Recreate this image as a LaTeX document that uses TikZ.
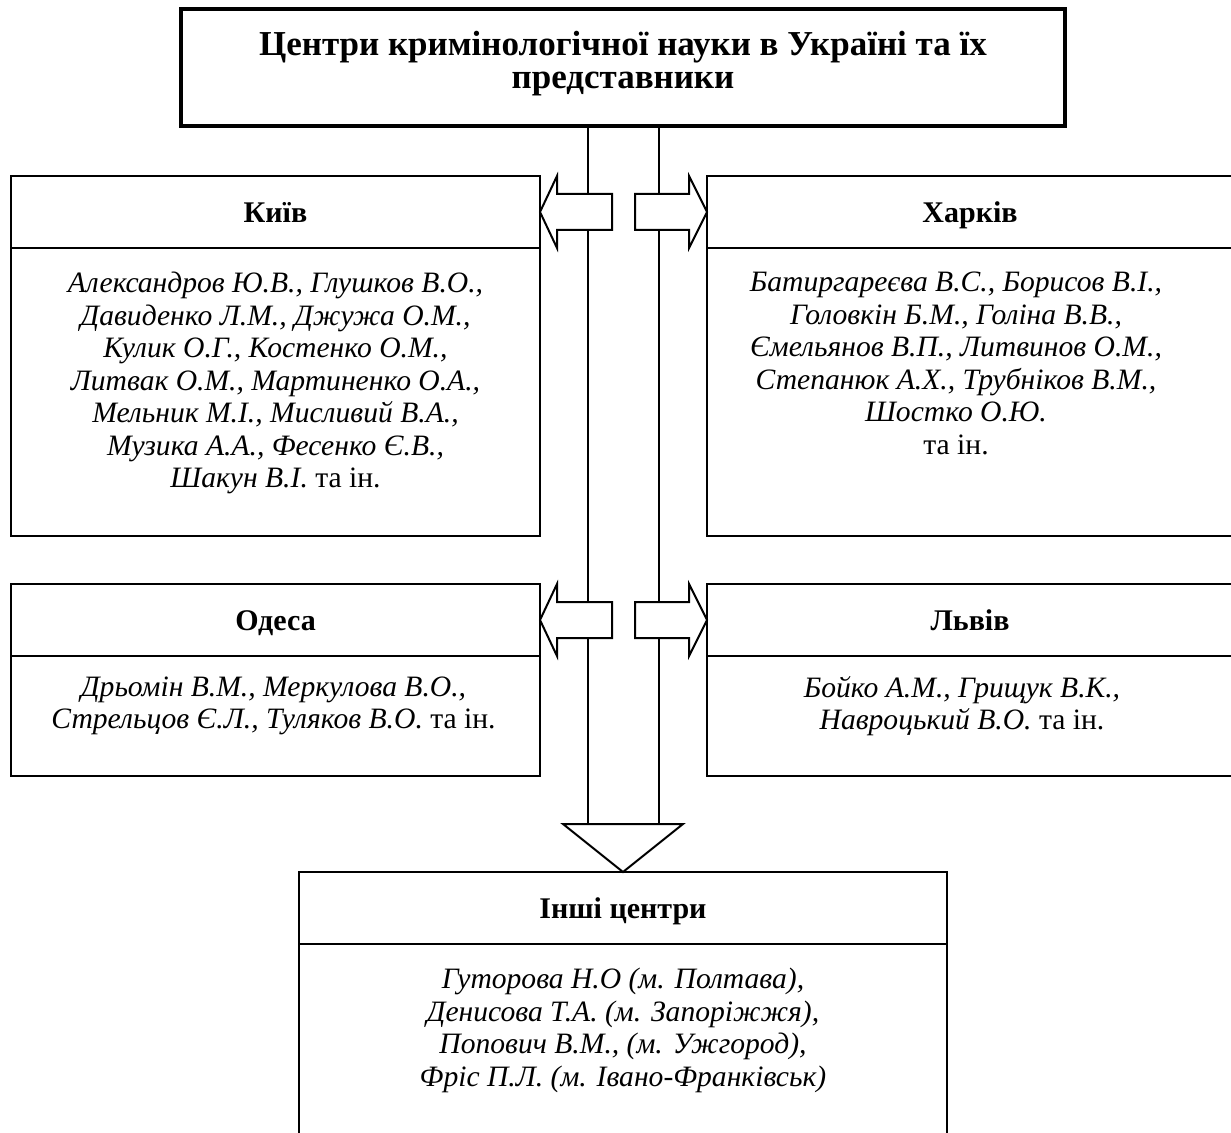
\documentclass[tikz,border=0pt]{standalone}
\usepackage{fontspec}
\setmainfont{Liberation Serif}
\usetikzlibrary{positioning,calc}

% block arrows drawn from their tip
\newcommand{\blockleft}[1]{\draw[blk] (#1) -- ++(17,-36) -- ++(0,18) -- ++(55,0)
  -- ++(0,36) -- ++(-55,0) -- ++(0,18) -- cycle;}
\newcommand{\blockright}[1]{\draw[blk] (#1) -- ++(-18,-36) -- ++(0,18) -- ++(-54,0)
  -- ++(0,36) -- ++(54,0) -- ++(0,18) -- cycle;}

\begin{document}
\begin{tikzpicture}[x=0.5pt,y=-0.5pt,
  frame/.style={draw,line width=1pt,inner sep=0pt,outer sep=0pt,align=center},
  head/.style={frame,minimum height=36pt,text height=10.3pt,text depth=0pt,
    font=\bfseries\fontsize{15}{17}\selectfont},
  body/.style={frame},
  names/.style={anchor=north,align=center,inner sep=0pt,font=\itshape\fontsize{14.8}{16.25}\selectfont},
  wire/.style={line width=1pt},
  blk/.style={draw,fill=white,line width=1pt,line join=miter}]
  \clip (0,0) rectangle (1231,1133);
  \fill[white] (0,0) rectangle (1231,1133);

  % title
  \node[frame,line width=2pt,minimum width=442pt,minimum height=58.5pt,text depth=7.5pt,
    font=\bfseries\fontsize{17.5}{16.5}\selectfont] (title) at (623,67.5)
    {Центри кримінологічної науки в Україні та їх\\представники};

  % city boxes
  \node[head,minimum width=264.5pt] (kyivHead) at (275.5,212) {Київ};
  \node[body,minimum width=264.5pt,minimum height=144pt,below=0pt of kyivHead] (kyivBody) {};
  \node[head,minimum width=263pt] (kharkivHead) at (970,212) {Харків};
  \node[body,minimum width=263pt,minimum height=144pt,below=0pt of kharkivHead] (kharkivBody) {};
  \node[head,minimum width=264.5pt] (odesaHead) at (275.5,620) {Одеса};
  \node[body,minimum width=264.5pt,minimum height=60pt,below=0pt of odesaHead] (odesaBody) {};
  \node[head,minimum width=263pt] (lvivHead) at (970,620) {Львів};
  \node[body,minimum width=263pt,minimum height=60pt,below=0pt of lvivHead] (lvivBody) {};
  \node[head,minimum width=324pt] (otherHead) at (623,908) {Інші центри};
  \node[body,minimum width=324pt,minimum height=118pt,below=0pt of otherHead] (otherBody) {};

  % names
  \node[names] (kyivNames) at ($(kyivBody.north)+(0,24)$)
    {Александров Ю.В., Глушков В.О.,\\Давиденко Л.М., Джужа О.М.,\\Кулик О.Г., Костенко О.М.,\\
     Литвак О.М., Мартиненко О.А.,\\Мельник М.І., Мисливий В.А.,\\Музика А.А., Фесенко Є.В.,\\
     Шакун В.І. \textup{та ін.}};
  \node[names] (kharkivNames) at ($(kharkivBody.north)+(-14,24)$)
    {Батиргареєва В.С., Борисов В.І.,\\Головкін Б.М., Голіна В.В.,\\Ємельянов В.П., Литвинов О.М.,\\
     Степанюк А.Х., Трубніков В.М.,\\Шостко О.Ю.\\\textup{та ін.}};
  \node[names] (odesaNames) at ($(odesaBody.north)+(-2,20)$)
    {Дрьомін В.М., Меркулова В.О.,\\Стрельцов Є.Л., Туляков В.О. \textup{та ін.}};
  \node[names] (lvivNames) at ($(lvivBody.north)+(-8,20)$)
    {Бойко А.М., Грищук В.К.,\\Навроцький В.О. \textup{та ін.}};
  \node[names] (otherNames) at ($(otherBody.north)+(0,24)$)
    {Гуторова Н.О (м. Полтава),\\Денисова Т.А. (м. Запоріжжя),\\Попович В.М., (м. Ужгород),\\
     Фріс П.Л. (м. Івано-Франківськ)};

  % trunk down to the other centres
  \coordinate (triL) at ($(otherHead.north)+(-35.5,-48)$);
  \coordinate (triR) at ($(otherHead.north)+(35.5,-48)$);
  \draw[wire] (title.south -| triL) -- (triL);
  \draw[wire] (title.south -| triR) -- (triR);

  \blockleft{kyivHead.east}
  \blockright{kharkivHead.west}
  \blockleft{odesaHead.east}
  \blockright{lvivHead.west}
  \draw[blk] (otherHead.north) -- ++(-60,-48) -- ++(120,0) -- cycle;
\end{tikzpicture}
\end{document}
